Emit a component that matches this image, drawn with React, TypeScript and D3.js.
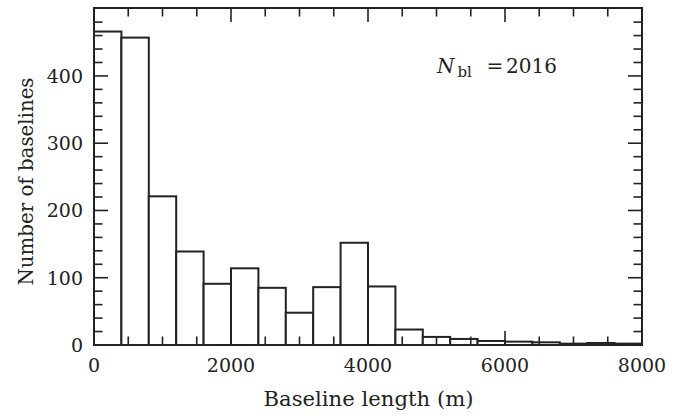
import React from "react";
import * as d3 from "d3";

const binStarts = [0, 400, 800, 1200, 1600, 2000, 2400, 2800, 3200, 3600, 4000, 4400, 4800, 5200, 5600, 6000, 6400, 6800, 7200, 7600];
const binWidth = 400;
const counts = [466, 457, 221, 139, 91, 114, 85, 48, 86, 152, 87, 23, 12, 9, 6, 5, 4, 2, 3, 2];
const xMajorTicks = [0, 2000, 4000, 6000, 8000];
const yMajorTicks = [0, 100, 200, 300, 400];
const xLabel = "Baseline length (m)";
const yLabel = "Number of baselines";
const nTotal = 2016;

const W = 694;
const H = 416;
const M = { left: 94, right: 52, top: 8, bottom: 71 };
const FONT = "'DejaVu Serif', serif";
const INK = "#222";

export default function App() {
  const x = d3.scaleLinear().domain([0, 8000]).range([M.left, W - M.right]);
  const y = d3.scaleLinear().domain([0, 501]).range([H - M.bottom, M.top]);
  const xMinor = d3.range(0, 8001, 500).filter((v) => v % 2000 !== 0);
  const yMinor = d3.range(0, 501, 20).filter((v) => v % 100 !== 0);
  const x0 = x.range()[0], x1 = x.range()[1];
  const y0 = y.range()[0], y1 = y.range()[1];
  const majL = 14, minL = 8.5;

  return (
    <svg width={W} height={H} style={{ position: "absolute", left: 0, top: 0, background: "#fff" }}>
      <g>
        {binStarts.map((b, i) => (
          <rect
            key={i}
            x={x(b)}
            y={y(counts[i])}
            width={x(b + binWidth) - x(b)}
            height={y(0) - y(counts[i])}
            fill="#fff"
            stroke={INK}
            strokeWidth={2}
          />
        ))}
      </g>
      <g stroke={INK} strokeWidth={1.6}>
        {xMajorTicks.map((t) => (
          <g key={"xm" + t}>
            <line x1={x(t)} x2={x(t)} y1={y0} y2={y0 - majL} />
            <line x1={x(t)} x2={x(t)} y1={y1} y2={y1 + majL} />
          </g>
        ))}
        {xMinor.map((t) => (
          <g key={"xn" + t}>
            <line x1={x(t)} x2={x(t)} y1={y0} y2={y0 - minL} />
            <line x1={x(t)} x2={x(t)} y1={y1} y2={y1 + minL} />
          </g>
        ))}
        {yMajorTicks.map((t) => (
          <g key={"ym" + t}>
            <line x1={x0} x2={x0 + majL} y1={y(t)} y2={y(t)} />
            <line x1={x1} x2={x1 - majL} y1={y(t)} y2={y(t)} />
          </g>
        ))}
        {yMinor.map((t) => (
          <g key={"yn" + t}>
            <line x1={x0} x2={x0 + minL} y1={y(t)} y2={y(t)} />
            <line x1={x1} x2={x1 - minL} y1={y(t)} y2={y(t)} />
          </g>
        ))}
      </g>
      <rect x={x0} y={y1} width={x1 - x0} height={y0 - y1} fill="none" stroke={INK} strokeWidth={2} />
      <g fontFamily={FONT} fontSize={19} fill={INK}>
        {xMajorTicks.map((t) => (
          <text key={"xl" + t} x={x(t)} y={y0 + 27} textAnchor="middle">{t}</text>
        ))}
        {yMajorTicks.map((t) => (
          <text key={"yl" + t} x={x0 - 11} y={y(t) + 7} textAnchor="end">{t}</text>
        ))}
        <text x={(x0 + x1) / 2 + 0.5} y={406} fontSize={21} textAnchor="middle" textLength={210} lengthAdjust="spacingAndGlyphs">{xLabel}</text>
        <text transform={`translate(33, ${(y0 + y1) / 2 + 5}) rotate(-90)`} fontSize={21} textAnchor="middle" textLength={208} lengthAdjust="spacingAndGlyphs">{yLabel}</text>
        <text x={437} y={72.5} fontSize={20} fontStyle="italic">N</text>
        <text x={457.5} y={77} fontSize={15}>bl</text>
        <text x={495} y={72.5} fontSize={20} textAnchor="middle">=</text>
        <text x={557} y={72.5} fontSize={20} textAnchor="end">{nTotal}</text>
      </g>
    </svg>
  );
}
